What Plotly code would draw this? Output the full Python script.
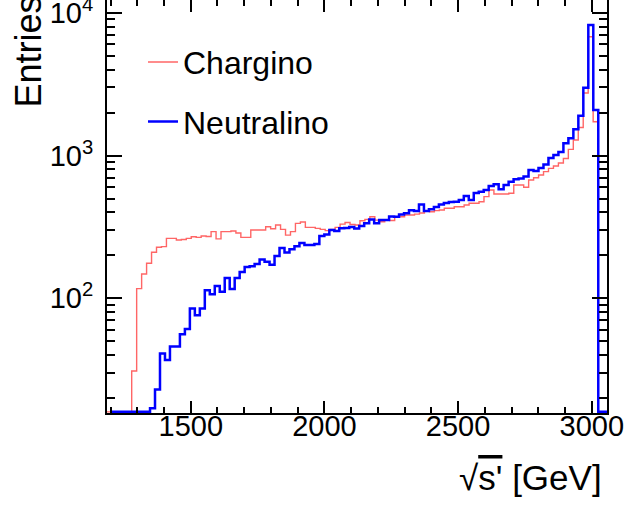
import numpy as np
import plotly.graph_objects as go

# ---- data (bin contents) ----
chargino_start = 1186.3   # GeV, lower edge of first bin
chargino_width = 18.56    # GeV per bin
chargino = [0, 0, 0, 0, 0,
            31, 117, 148, 176, 210, 228, 230, 263, 263, 256,
            258, 263, 270, 267, 273, 271, 293, 261, 293, 293,
            296, 287, 267, 267, 301, 301, 301, 317, 307, 326,
            304, 277, 293, 335, 342, 314, 314, 309, 304, 298,
            304, 314, 331, 340, 329, 326, 349, 357, 373, 353,
            344, 353, 351, 373, 373, 383, 383, 389, 396, 411,
            404, 411, 415, 427, 427, 438, 438, 450, 463, 463,
            475, 515, 573, 538, 538, 538, 544, 622, 622, 599,
            674, 699, 730, 771, 813, 844, 886, 953, 1105, 1284,
            1571, 2740, 6790, 1725, 0]

neutralino_start = 1198.6
neutralino_width = 18.63
neutralino = [0, 0, 0, 0, 0, 0, 0, 0,
              17, 23, 41, 37, 46, 46, 56, 61, 85, 76,
              85, 114, 107, 122, 111, 139, 116, 139, 153, 166,
              168, 174, 187, 180, 172, 198, 225, 209, 221, 232,
              244, 236, 236, 240, 273, 280, 301, 296, 309, 311,
              316, 308, 321, 335, 356, 335, 353, 353, 374, 373,
              386, 394, 413, 408, 454, 408, 420, 436, 454, 465,
              472, 475, 488, 520, 488, 546, 558, 573, 611, 629,
              580, 622, 656, 681, 690, 713, 791, 779, 817, 865,
              960, 1008, 1058, 1217, 1320, 1526, 1900, 2985, 8200, 2082,
              0, 0]

x_tickvals = [1500, 2000, 2500, 3000]
y_tickvals = [100, 1000, 10000]
y_ticktext = ["10<sup>2</sup>", "10<sup>3</sup>", "10<sup>4</sup>"]
y_minor_mult = [2, 3, 4, 5, 6, 7, 8, 9]

X_RANGE = [1186.7, 3057.0]
Y_RANGE_LOG = [1.197, 4.089]

FONT = "Liberation Sans, Arial, Helvetica, sans-serif"
floor = 10 ** (Y_RANGE_LOG[0] + 0.008)


def step_path(start, width, counts):
    counts = np.asarray(counts, dtype=float)
    edges = start + width * np.arange(len(counts) + 1)
    c = np.where(counts > 0, counts, floor)
    xs = np.concatenate([[edges[0]], edges[:-1], [edges[-1], edges[-1]]])
    ys = np.concatenate([[floor], c, [c[-1], floor]])
    return xs, ys


# y axis ticks: short ticks at every 2..9 x 10^n, labels only at decades
all_vals, all_text = [], []
for e in (1, 2, 3):
    for m in [1] + y_minor_mult:
        v = m * 10 ** e
        if m == 1 and v in y_tickvals:
            all_vals.append(v)
            all_text.append(y_ticktext[y_tickvals.index(v)])
        elif m != 1:
            all_vals.append(v)
            all_text.append("")
all_vals.append(10000)
all_text.append(y_ticktext[-1])

fig = go.Figure()
xr, yr = step_path(chargino_start, chargino_width, chargino)
fig.add_trace(go.Scatter(x=xr, y=yr, mode="lines", line_shape="hv",
                         line=dict(color="#ff6666", width=1.4),
                         name="Chargino", legendgroup="a", yaxis="y"))
xb, yb = step_path(neutralino_start, neutralino_width, neutralino)
fig.add_trace(go.Scatter(x=xb, y=yb, mode="lines", line_shape="hv",
                         line=dict(color="#0000ff", width=2.5),
                         name="Neutralino", legendgroup="b", yaxis="y2"))

fig.update_xaxes(range=X_RANGE, tickmode="array", tickvals=x_tickvals,
                 ticks="inside", ticklen=12, tickwidth=2, tickcolor="black",
                 minor=dict(ticks="inside", ticklen=6, tickwidth=2, tickcolor="black",
                            tickmode="linear", tick0=1500, dtick=100, showgrid=False),
                 showline=True, linecolor="black", linewidth=2, mirror="ticks",
                 showgrid=False, zeroline=False, ticklabelstandoff=-14,
                 automargin=False,
                 tickfont=dict(size=29, family=FONT, color="black"))

common_y = dict(type="log", range=Y_RANGE_LOG, tickmode="array",
                tickwidth=2, tickcolor="black", ticks="inside",
                showline=True, linecolor="black", linewidth=2, mirror="ticks",
                showgrid=False, zeroline=False, automargin=False)

fig.update_layout(
    yaxis=dict(**common_y, tickvals=all_vals, ticktext=all_text, ticklen=8,
               ticklabelstandoff=6, ticklabeloverflow="allow",
               tickfont=dict(size=29, family=FONT, color="black")),
    yaxis2=dict(**common_y, tickvals=y_tickvals, ticktext=["", "", ""], ticklen=15,
                overlaying="y", side="left", showticklabels=False),
)

fig.add_annotation(text="Entries", xref="paper", yref="paper",
                   x=-0.158, y=0.735, xanchor="center", yanchor="bottom",
                   textangle=-90, showarrow=False,
                   font=dict(size=36, family=FONT, color="black"))
fig.add_annotation(text="√<span style='text-decoration:overline'>s'</span> [GeV]",
                   xref="paper", yref="paper",
                   x=0.994, y=-0.155, xanchor="right", yanchor="middle",
                   showarrow=False,
                   font=dict(size=35, family=FONT, color="black"))

fig.update_layout(
    width=628, height=506,
    margin=dict(l=107, r=21, t=0, b=93, autoexpand=False),
    paper_bgcolor="white", plot_bgcolor="white",
    showlegend=True,
    legend=dict(x=0.072, y=0.916, xanchor="left", yanchor="top",
                bgcolor="rgba(0,0,0,0)", borderwidth=0,
                traceorder="grouped", tracegroupgap=15,
                font=dict(size=32, family=FONT, color="black")),
)

fig.write_html("out.html", config={"displayModeBar": False})
